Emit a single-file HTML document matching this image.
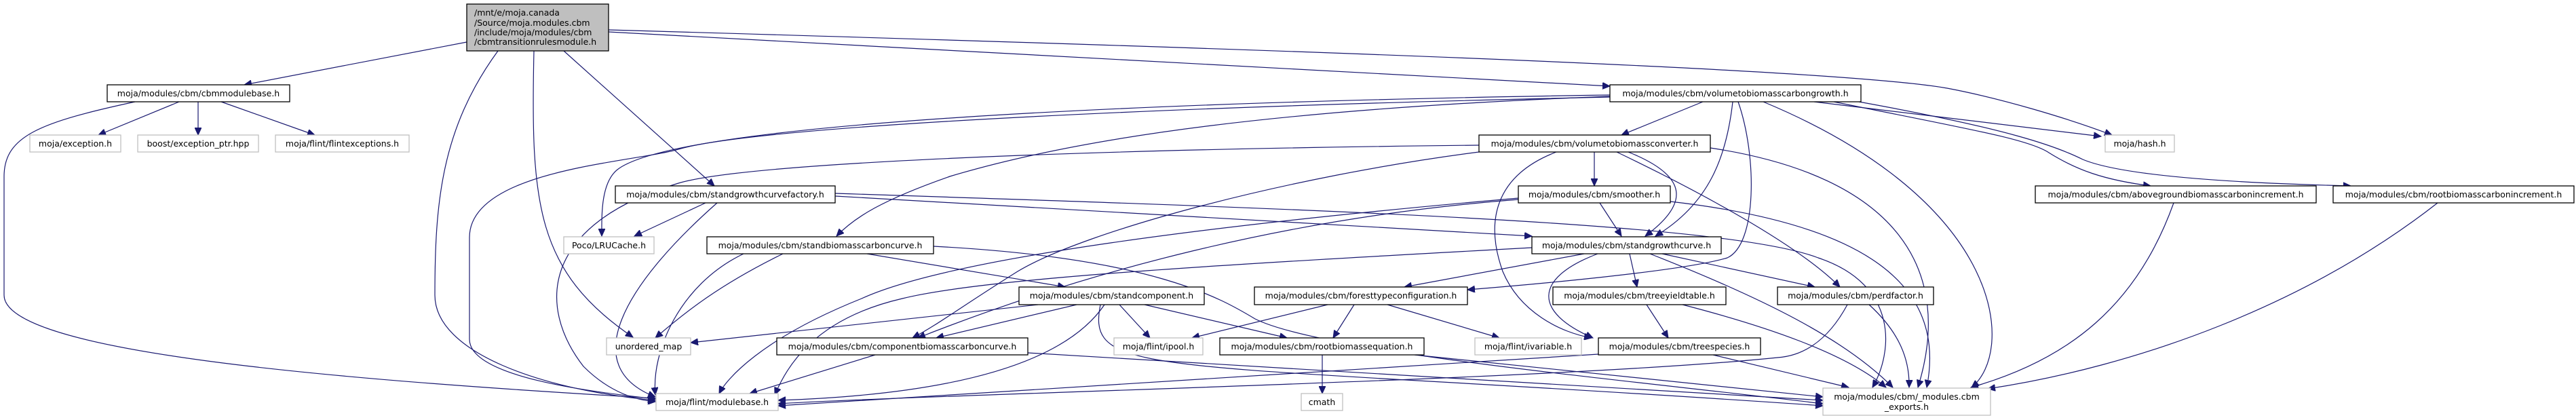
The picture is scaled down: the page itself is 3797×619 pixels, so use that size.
<!DOCTYPE html>
<html><head><meta charset="utf-8"><style>
html,body{margin:0;padding:0;background:#fff;}
svg{display:block;}
text{font-family:"DejaVu Sans","Liberation Sans",sans-serif;font-size:12.5px;fill:#000;}
.e{fill:none;stroke:#191970;stroke-width:1.2;}
.n{fill:#fff;stroke:#000;stroke-width:1.3;}
.g{fill:#fff;stroke:#bfbfbf;stroke-width:1.3;}
</style></head><body>
<svg width="3797" height="619" viewBox="0 0 3797 619" xmlns="http://www.w3.org/2000/svg">
<defs><marker id="a" markerUnits="userSpaceOnUse" markerWidth="12" markerHeight="10" refX="11" refY="5" orient="auto"><path d="M0,0 L11,5 L0,10 z" fill="#191970" stroke="#191970"/></marker></defs>
<g class="e" marker-end="url(#a)">
<!-- root -->
<path d="M688,62 L360,125"/>
<path d="M734,75 C650,190 641,300 641,435 C641,520 800,575 966,590"/>
<path d="M787,75 C782,300 790,400 933,497"/>
<path d="M831,75 L1053,274"/>
<path d="M897,47 L2373,127"/>
<path d="M897,44 C1800,70 2700,100 2870,130 C2950,145 3050,175 3113,199"/>
<!-- cbmmodulebase -->
<path d="M199,150 C60,180 6,200 6,260 L6,435 C6,520 500,560 966,587"/>
<path d="M264,150 L145,199"/>
<path d="M292,150 L292,199"/>
<path d="M326,150 L464,199"/>
<!-- volumetobiomasscarbongrowth -->
<path d="M2510,150 L2390,199"/>
<path d="M2373,140 C1700,150 1000,180 910,250 C885,270 887,320 887,348"/>
<path d="M2373,143 C1600,160 1100,190 1000,220 C930,240 692,250 692,350 L692,500 C692,560 900,580 966,588"/>
<path d="M2373,142 C1900,160 1600,200 1400,260 C1300,295 1260,320 1233,348"/>
<path d="M2554,150 C2545,230 2520,300 2440,348"/>
<path d="M2562,150 C2590,230 2590,360 2546,380 C2480,400 2250,420 2163,427"/>
<path d="M2599,150 C2960,300 2970,520 2906,571"/>
<path d="M2674,150 L3097,201"/>
<path d="M2703,150 C2900,190 2990,205 3020,225 C3060,250 3100,265 3170,274"/>
<path d="M2740,150 C2960,190 3030,215 3070,235 C3130,260 3300,270 3465,274"/>
<!-- converter -->
<path d="M2350,224 L2350,274"/>
<path d="M2400,224 C2490,260 2490,300 2425,348"/>
<path d="M2180,224 C1900,260 1600,340 1500,400 C1420,450 1380,480 1345,498"/>
<path d="M2180,214 C1600,220 1100,240 1000,270 C800,330 790,450 860,540 C900,580 940,590 966,592"/>
<path d="M2294,224 C2200,260 2190,330 2215,400 C2240,460 2300,490 2346,498"/>
<path d="M2383,224 C2500,280 2650,360 2712,423"/>
<path d="M2521,218 C2800,260 2880,400 2827,571"/>
<!-- smoother -->
<path d="M2358,299 L2390,348"/>
<path d="M2238,294 C1900,320 1600,400 1353,498"/>
<path d="M2238,292 C1800,330 1400,380 1270,440 C1120,500 1070,560 1060,580"/>
<path d="M2462,297 C2750,330 2870,420 2840,571"/>
<!-- factory -->
<path d="M1040,299 L935,348"/>
<path d="M1057,299 C920,420 850,540 966,585"/>
<path d="M1231,289 L2258,348"/>
<path d="M1231,285 C2000,310 2550,330 2680,380 C2800,420 2790,520 2760,571"/>
<!-- standbiomasscarboncurve -->
<path d="M1154,374 C1060,420 1010,460 966,498"/>
<path d="M1096,374 C1000,420 960,520 966,582"/>
<path d="M1278,374 L1570,423"/>
<path d="M1376,363 C1700,380 1800,440 1850,470 C1950,520 2400,560 2687,595"/>
<!-- standgrowthcurve -->
<path d="M2335,374 L2070,423"/>
<path d="M2402,374 L2413,423"/>
<path d="M2450,374 L2675,423"/>
<path d="M2355,374 C2260,410 2260,460 2348,498"/>
<path d="M2258,365 C1800,390 1450,410 1330,440 C1200,470 1160,540 1142,582"/>
<path d="M2432,374 C2600,440 2720,500 2790,571"/>
<!-- foresttypeconfiguration -->
<path d="M1957,449 L1757,498"/>
<path d="M1996,449 L1965,498"/>
<path d="M2045,449 L2210,498"/>
<!-- standcomponent -->
<path d="M1530,449 L1018,505"/>
<path d="M1587,449 L1380,498"/>
<path d="M1650,449 L1695,498"/>
<path d="M1687,449 L1897,498"/>
<path d="M1628,449 C1580,520 1450,580 1147,590"/>
<path d="M1622,449 C1600,560 1700,530 2687,598"/>
<!-- treeyieldtable -->
<path d="M2427,449 L2459,498"/>
<path d="M2480,449 C2600,480 2720,520 2780,571"/>
<!-- perdfactor -->
<path d="M2723,449 C2690,510 2650,525 2620,527 C2300,560 1400,580 1147,595"/>
<path d="M2755,449 C2800,490 2815,530 2814,571"/>
<!-- component -->
<path d="M1290,523 L1105,580"/>
<path d="M1515,520 L2687,590"/>
<!-- rootbiomassequation -->
<path d="M1949,523 L1949,580"/>
<path d="M2085,523 L2687,585"/>
<!-- treespecies -->
<path d="M2356,522 L1147,598"/>
<path d="M2525,523 L2725,571"/>
<!-- increments -->
<path d="M3204,299 C3150,450 3050,530 2905,571"/>
<path d="M3593,299 C3400,450 3150,540 2930,573"/>
</g>
<!-- nodes -->
<rect x="688" y="6" width="209" height="69" fill="#bfbfbf" stroke="#000" stroke-width="1.3"/>
<text x="699" y="23">/mnt/e/moja.canada</text>
<text x="699" y="38">/Source/moja.modules.cbm</text>
<text x="699" y="52">/include/moja/modules/cbm</text>
<text x="699" y="66">/cbmtransitionrulesmodule.h</text>

<rect class="n" x="158" y="125" width="269" height="25"/><text x="292.5" y="142" text-anchor="middle">moja/modules/cbm/cbmmodulebase.h</text>
<rect class="g" x="44" y="199" width="134" height="25"/><text x="111" y="216" text-anchor="middle">moja/exception.h</text>
<rect class="g" x="203" y="199" width="178" height="25"/><text x="292" y="216" text-anchor="middle">boost/exception_ptr.hpp</text>
<rect class="g" x="406" y="199" width="197" height="25"/><text x="504.5" y="216" text-anchor="middle">moja/flint/flintexceptions.h</text>

<rect class="n" x="2373" y="125" width="370" height="25"/><text x="2558" y="142" text-anchor="middle">moja/modules/cbm/volumetobiomasscarbongrowth.h</text>
<rect class="n" x="2180" y="199" width="341" height="25"/><text x="2350.5" y="216" text-anchor="middle">moja/modules/cbm/volumetobiomassconverter.h</text>
<rect class="g" x="3103" y="199" width="102" height="25"/><text x="3154" y="216" text-anchor="middle">moja/hash.h</text>

<rect class="n" x="907" y="274" width="324" height="25"/><text x="1069" y="291" text-anchor="middle">moja/modules/cbm/standgrowthcurvefactory.h</text>
<rect class="n" x="2238" y="274" width="224" height="25"/><text x="2350" y="291" text-anchor="middle">moja/modules/cbm/smoother.h</text>
<rect class="n" x="3000" y="274" width="414" height="25"/><text x="3207" y="291" text-anchor="middle">moja/modules/cbm/abovegroundbiomasscarbonincrement.h</text>
<rect class="n" x="3439" y="274" width="355" height="25"/><text x="3616.5" y="291" text-anchor="middle">moja/modules/cbm/rootbiomasscarbonincrement.h</text>

<rect class="g" x="831" y="349" width="133" height="25"/><text x="897.5" y="366" text-anchor="middle">Poco/LRUCache.h</text>
<rect class="n" x="1042" y="349" width="334" height="25"/><text x="1209" y="366" text-anchor="middle">moja/modules/cbm/standbiomasscarboncurve.h</text>
<rect class="n" x="2258" y="349" width="279" height="25"/><text x="2397.5" y="366" text-anchor="middle">moja/modules/cbm/standgrowthcurve.h</text>

<rect class="n" x="1502" y="423" width="273" height="26"/><text x="1638.5" y="440" text-anchor="middle">moja/modules/cbm/standcomponent.h</text>
<rect class="n" x="1849" y="423" width="314" height="26"/><text x="2006" y="440" text-anchor="middle">moja/modules/cbm/foresttypeconfiguration.h</text>
<rect class="n" x="2289" y="423" width="255" height="26"/><text x="2416.5" y="440" text-anchor="middle">moja/modules/cbm/treeyieldtable.h</text>
<rect class="n" x="2620" y="423" width="230" height="26"/><text x="2735" y="440" text-anchor="middle">moja/modules/cbm/perdfactor.h</text>

<rect class="g" x="894" y="498" width="124" height="25"/><text x="956" y="515" text-anchor="middle">unordered_map</text>
<rect class="n" x="1145" y="498" width="370" height="25"/><text x="1330" y="515" text-anchor="middle">moja/modules/cbm/componentbiomasscarboncurve.h</text>
<rect class="g" x="1642" y="498" width="131" height="25"/><text x="1707.5" y="515" text-anchor="middle">moja/flint/ipool.h</text>
<rect class="n" x="1798" y="498" width="301" height="25"/><text x="1948.5" y="515" text-anchor="middle">moja/modules/cbm/rootbiomassequation.h</text>
<rect class="g" x="2174" y="498" width="157" height="25"/><text x="2252.5" y="515" text-anchor="middle">moja/flint/ivariable.h</text>
<rect class="n" x="2356" y="498" width="239" height="25"/><text x="2475.5" y="515" text-anchor="middle">moja/modules/cbm/treespecies.h</text>

<rect class="g" x="967" y="580" width="180" height="25"/><text x="1057" y="597" text-anchor="middle">moja/flint/modulebase.h</text>
<rect class="g" x="1918" y="580" width="61" height="25"/><text x="1948.5" y="597" text-anchor="middle">cmath</text>
<rect class="g" x="2687" y="572" width="247" height="40"/>
<text x="2810.5" y="589" text-anchor="middle">moja/modules/cbm/_modules.cbm</text>
<text x="2810.5" y="604" text-anchor="middle">_exports.h</text>
</svg>
</body></html>
